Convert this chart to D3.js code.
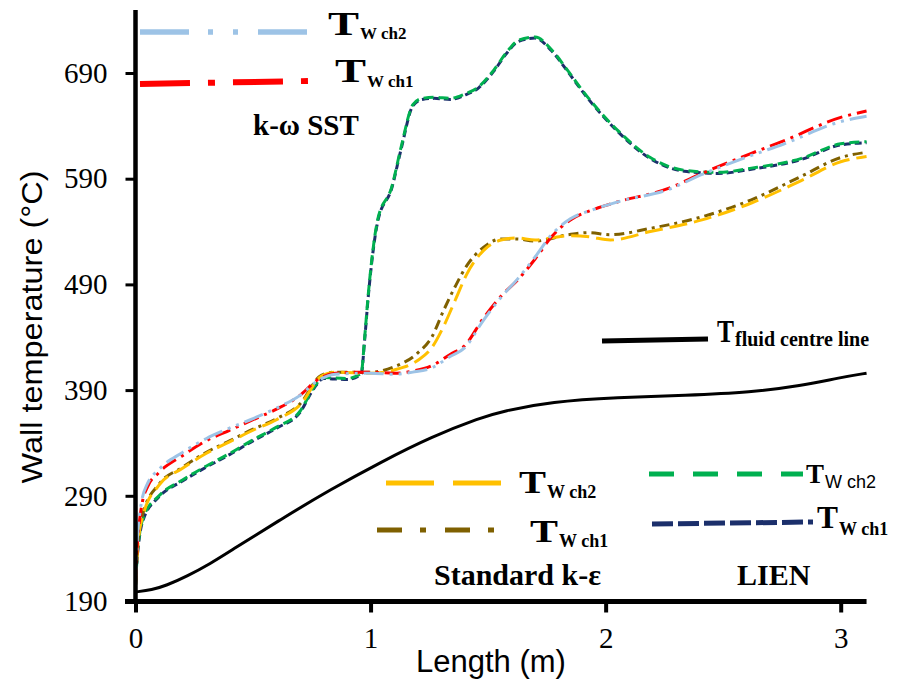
<!DOCTYPE html>
<html>
<head>
<meta charset="utf-8">
<script src="https://cdn.jsdelivr.net/npm/d3@7"></script>
<style>
  body { margin: 0; background: #fff; }
  svg { display: block; }
  .tick text { font-family: "Liberation Serif", serif; font-size: 29px; fill: #000; }
  .lbl { font-family: "Liberation Serif", serif; font-weight: bold; fill: #000; }
  .curve { fill: none; stroke-width: 3; }
</style>
</head>
<body>
<div id="chart"></div>
<script>
// fluid centre line
var lenFluid = [0, 0.07, 0.13, 0.22, 0.32, 0.405, 0.62, 0.83, 1.045, 1.26, 1.47, 1.56, 1.77, 2.05, 2.34, 2.62, 2.83, 3.0, 3.11];
var tFluid = [199, 201, 205, 214, 226, 238, 268, 296, 322, 346, 364, 370, 379, 383, 385, 388, 394, 402, 406];

// k-w SST
var lenSst = [0, 0.008, 0.018, 0.03, 0.05, 0.1, 0.2, 0.3, 0.4, 0.5, 0.6, 0.7, 0.77, 0.85, 1.0, 1.1, 1.18, 1.26, 1.34, 1.4, 1.48, 1.56, 1.625, 1.7, 1.77, 1.85, 1.95, 2.05, 2.27, 2.41, 2.62, 2.76, 3.0, 3.11];
var tSstCh1 = [205, 245, 268, 285, 298, 312, 328, 342, 352, 362, 372, 385, 399, 406, 407, 406, 408, 413, 424, 432, 458, 480, 494, 514, 535, 551, 561, 568, 581, 595, 614, 626, 648, 654];
var tSstCh2 = [205, 250, 273, 289, 301, 315, 331, 344, 354, 363, 373, 385, 398, 405, 406, 405, 407, 411, 422, 430, 456, 479, 495, 516, 537, 552, 561, 568, 580, 594, 612, 623, 644, 649];

// standard k-e
var lenKe = [0, 0.008, 0.018, 0.034, 0.1, 0.2, 0.3, 0.4, 0.5, 0.6, 0.7, 0.79, 0.85, 1.0, 1.1, 1.2, 1.26, 1.31, 1.36, 1.41, 1.48, 1.555, 1.62, 1.7, 1.84, 1.93, 2.02, 2.19, 2.41, 2.62, 2.83, 3.0, 3.11];
var tKeCh2 = [205, 238, 258, 273, 300, 316, 330, 341, 352, 362, 376, 403, 407, 406, 409, 418, 430, 450, 475, 500, 522, 532, 534, 532, 536, 535, 532, 540, 551, 567, 588, 606, 611];
var tKeCh1 = [205, 240, 260, 275, 301, 317, 331, 342, 353, 363, 377, 404, 407, 407, 412, 425, 440, 465, 488, 508, 525, 533, 533, 531, 537, 539, 537, 543, 554, 570, 592, 610, 615];

// LIEN
var lenLien = [0, 0.008, 0.018, 0.034, 0.1, 0.2, 0.3, 0.4, 0.5, 0.6, 0.7, 0.76, 0.8, 0.9, 0.96, 0.975, 0.99, 1.03, 1.09, 1.13, 1.18, 1.22, 1.27, 1.34, 1.4, 1.46, 1.525, 1.58, 1.63, 1.7, 1.77, 1.84, 1.91, 2.05, 2.19, 2.335, 2.48, 2.62, 2.83, 3.0, 3.11];
var tLienCh2 = [205, 235, 255, 270, 290, 305, 318, 330, 343, 355, 370, 393, 402, 401, 406, 440, 480, 551, 582, 620, 660, 666, 667, 666, 670, 677, 693, 710, 721, 724, 712, 692, 671, 636, 610, 598, 596, 600, 609, 623, 625];
var tLienCh1 = [205, 233, 253, 268, 289, 304, 317, 329, 342, 354, 369, 392, 401, 400, 405, 438, 478, 549, 581, 618, 659, 665, 666, 665, 669, 676, 692, 709, 720, 723, 711, 691, 670, 635, 609, 597, 595, 599, 608, 622, 624];

var xTicks = [0, 1, 2, 3];
var yTicks = [190, 290, 390, 490, 590, 690];

(function () {
    var width = 901, height = 682;

    var svg = d3.select("#chart")
        .append("svg")
        .attr("width", width)
        .attr("height", height);

    var x = d3.scaleLinear().domain([0, 3]).range([135.5, 840.7]);
    var y = d3.scaleLinear().domain([190, 690]).range([601.5, 73]);

    function makeLine(curve) {
        return d3.line()
            .x(function (d) { return x(d[0]); })
            .y(function (d) { return y(d[1]); })
            .curve(curve);
    }
    var line = makeLine(d3.curveMonotoneX);
    var smooth = makeLine(d3.curveBasis);

    var series = [
        { len: lenFluid, t: tFluid, color: "#000", dash: null, w: 3.2, gen: smooth },
        { len: lenLien, t: tLienCh1, color: "#1b2f6b", dash: "7,4", w: 3, gen: line },
        { len: lenLien, t: tLienCh2, color: "#00b050", dash: "10,5", w: 3, gen: line },
        { len: lenKe, t: tKeCh1, color: "#7f6000", dash: "10,5,3,5", w: 3, gen: line },
        { len: lenKe, t: tKeCh2, color: "#ffc000", dash: "18,7", w: 3, gen: line },
        { len: lenSst, t: tSstCh1, color: "#ff0000", dash: "16,6,3,6", w: 3, gen: line },
        { len: lenSst, t: tSstCh2, color: "#9dc3e6", dash: "20,6,3,6,3,6", w: 3.2, gen: line }
    ];

    svg.selectAll(".curve")
        .data(series)
        .enter().append("path")
        .attr("class", "curve")
        .attr("d", function (s) { return s.gen(d3.zip(s.len, s.t)); })
        .attr("stroke", function (s) { return s.color; })
        .attr("stroke-width", function (s) { return s.w; })
        .attr("stroke-dasharray", function (s) { return s.dash; });

    // AXES
    var xAxis = svg.append("g")
        .attr("transform", "translate(0," + y(190) + ")")
        .call(d3.axisBottom(x).tickValues(xTicks).tickFormat(d3.format("d")).tickSizeInner(11).tickSizeOuter(0).tickPadding(15));
    xAxis.select(".domain").attr("d", "M125,0H" + x(3.11)).attr("stroke-width", 5);
    xAxis.selectAll(".tick line").attr("stroke-width", 4);

    var yAxis = svg.append("g")
        .attr("transform", "translate(" + x(0) + ",0)")
        .call(d3.axisLeft(y).tickValues(yTicks).tickSizeInner(10).tickSizeOuter(0).tickPadding(18));
    yAxis.select(".domain").attr("d", "M0,10V" + (y(190) + 2)).attr("stroke-width", 4.5);
    yAxis.selectAll(".tick line").attr("stroke-width", 3);

    svg.append("text")
        .attr("x", 491).attr("y", 672)
        .attr("text-anchor", "middle")
        .style("font-family", "'Liberation Sans', Arial, sans-serif")
        .style("font-size", "31px")
        .text("Length (m)");

    svg.append("text")
        .attr("transform", "translate(42,327) rotate(-90)")
        .attr("text-anchor", "middle")
        .attr("textLength", 313)
        .attr("lengthAdjust", "spacingAndGlyphs")
        .style("font-family", "'Liberation Sans', Arial, sans-serif")
        .style("font-size", "30px")
        .text("Wall temperature (\u00b0C)");

    // LEGENDS
    var keys = [
        { x1: 140, y1: 32, x2: 307, y2: 32, color: "#9dc3e6", dash: "49,19,5,20,5,20", w: 5.5 },
        { x1: 140, y1: 84, x2: 308, y2: 81, color: "#ff0000", dash: "50,18,7,18", w: 6 },
        { x1: 602, y1: 341, x2: 708, y2: 339, color: "#000", dash: null, w: 5 },
        { x1: 386, y1: 483, x2: 502, y2: 483, color: "#ffc000", dash: "48,19", w: 5 },
        { x1: 377, y1: 530, x2: 512, y2: 530, color: "#7f6000", dash: "25,18,6,19", w: 5 },
        { x1: 649, y1: 474, x2: 803, y2: 474, color: "#00b050", dash: "25,19", w: 5 },
        { x1: 652, y1: 524, x2: 813, y2: 522, color: "#1b2f6b", dash: "21,5", w: 5 }
    ];
    svg.selectAll(".key")
        .data(keys)
        .enter().append("line")
        .attr("class", "key")
        .attr("x1", function (d) { return d.x1; })
        .attr("y1", function (d) { return d.y1; })
        .attr("x2", function (d) { return d.x2; })
        .attr("y2", function (d) { return d.y2; })
        .attr("stroke", function (d) { return d.color; })
        .attr("stroke-width", function (d) { return d.w; })
        .attr("stroke-dasharray", function (d) { return d.dash; });

    // T with a subscript; tw = drawn width of the T
    function sym(tx, ty, tSize, tw, sub, sy, sSize, sans) {
        svg.append("text").attr("class", "lbl").attr("x", tx).attr("y", ty)
            .attr("textLength", tw).attr("lengthAdjust", "spacingAndGlyphs")
            .style("font-size", tSize + "px").text("T");
        var s = svg.append("text").attr("class", "lbl").attr("x", tx + tw + 1).attr("y", sy)
            .style("font-size", sSize + "px").text(sub);
        if (sans) s.style("font-family", "'Liberation Sans', Arial, sans-serif").style("font-weight", "normal");
    }
    sym(328, 35, 33, 31, "W ch2", 39, 17);
    sym(335, 82, 33, 31, "W ch1", 87, 17);
    sym(717, 342, 31, 17, "fluid centre line", 346, 20);
    sym(519, 493, 32, 27, "W ch2", 498, 18);
    sym(530, 542, 32, 28, "W ch1", 547, 18);
    sym(806, 483, 28, 18, "W ch2", 488, 18, true);
    sym(817, 528, 31, 21, "W ch1", 535, 18);

    svg.append("text").attr("class", "lbl").attr("x", 253).attr("y", 135)
        .style("font-size", "29px").text("k-\u03c9 SST");
    svg.append("text").attr("class", "lbl").attr("x", 434).attr("y", 585)
        .style("font-size", "30px").text("Standard k-\u03b5");
    svg.append("text").attr("class", "lbl").attr("x", 737).attr("y", 585)
        .style("font-size", "30px").text("LIEN");
})();
</script>
</body>
</html>
